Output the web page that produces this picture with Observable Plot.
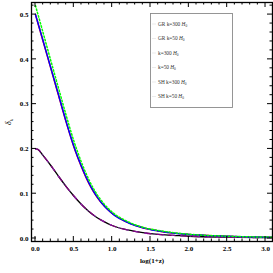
<!DOCTYPE html>
<html><head><meta charset="utf-8">
<script src="https://cdn.jsdelivr.net/npm/d3@7"></script>
<script src="https://cdn.jsdelivr.net/npm/@observablehq/plot@0.6"></script>
<style>body{margin:0;background:#fff} svg{display:block}</style>
</head><body><div id="chart"></div>
<script>
// log(1+z) sample points
const xBig = [0, 0.1, 0.2, 0.3, 0.4, 0.5, 0.6, 0.7, 0.8, 0.9, 1.0, 1.2, 1.4, 1.6, 1.8, 2.0, 2.5, 3.0, 3.08];
const grK300 = [0.500, 0.440, 0.380, 0.320, 0.260, 0.205, 0.160, 0.122, 0.093, 0.072, 0.056, 0.036, 0.024, 0.017, 0.012, 0.009, 0.005, 0.003, 0.003];
const k300   = [0.500, 0.441, 0.381, 0.321, 0.261, 0.206, 0.161, 0.123, 0.094, 0.072, 0.056, 0.036, 0.024, 0.017, 0.012, 0.009, 0.005, 0.003, 0.003];
const shK300 = [0.520, 0.459, 0.397, 0.336, 0.275, 0.218, 0.170, 0.130, 0.099, 0.076, 0.059, 0.038, 0.025, 0.018, 0.013, 0.0095, 0.0052, 0.0032, 0.003];

const xSmall = [0, 0.03, 0.1, 0.2, 0.3, 0.4, 0.5, 0.6, 0.7, 0.8, 0.9, 1.0, 1.2, 1.4, 1.6, 1.8, 2.0, 2.5, 3.0, 3.08];
const grK50 = [0.200, 0.199, 0.185, 0.163, 0.139, 0.116, 0.095, 0.076, 0.060, 0.047, 0.037, 0.029, 0.019, 0.013, 0.009, 0.007, 0.005, 0.003, 0.002, 0.002];
const k50   = [0.200, 0.199, 0.185, 0.163, 0.139, 0.116, 0.095, 0.076, 0.060, 0.047, 0.037, 0.029, 0.019, 0.013, 0.009, 0.007, 0.005, 0.003, 0.002, 0.002];
const shK50 = [0.200, 0.199, 0.185, 0.163, 0.139, 0.116, 0.095, 0.076, 0.060, 0.047, 0.037, 0.029, 0.019, 0.013, 0.009, 0.007, 0.005, 0.003, 0.002, 0.002];

const xMajor = [0, 0.5, 1.0, 1.5, 2.0, 2.5, 3.0];
const xMinor = [0.1, 0.2, 0.3, 0.4, 0.6, 0.7, 0.8, 0.9, 1.1, 1.2, 1.3, 1.4, 1.6, 1.7, 1.8, 1.9, 2.1, 2.2, 2.3, 2.4, 2.6, 2.7, 2.8, 2.9];
const yMajor = [0, 0.1, 0.2, 0.3, 0.4, 0.5];
const yMinor = [0.02, 0.04, 0.06, 0.08, 0.12, 0.14, 0.16, 0.18, 0.22, 0.24, 0.26, 0.28, 0.32, 0.34, 0.36, 0.38, 0.42, 0.44, 0.46, 0.48, 0.52];

const legendLabels = ["GR k=300 ", "GR k=50 ", "k=300 ", "k=50 ", "SH k=300 ", "SH k=50 "];
const xLabel = "log(1+z)";
const yLabel = "δ";
const ySub = "k";

const rows = (xs, ys) => xs.map((x, i) => ({x, y: ys[i]}));
const fmt = d3.format(".1f");

const chart = Plot.plot({
  width: 273, height: 273,
  marginLeft: 31, marginRight: 1, marginTop: 2, marginBottom: 32,
  x: {domain: [-0.052, 3.091]},
  y: {domain: [-0.0067, 0.527]},
  style: {fontFamily: "Liberation Serif", fontSize: "7px", fontWeight: "bold", color: "#000", background: "#fff"},
  marks: [
    Plot.lineY(rows(xSmall, grK50), {x: "x", y: "y", stroke: "#000", strokeWidth: 1.3, curve: "monotone-x"}),
    Plot.lineY(rows(xSmall, k50), {x: "x", y: "y", stroke: "#800080", strokeWidth: 1.3, strokeDasharray: "6,6", curve: "monotone-x"}),
    Plot.lineY(rows(xSmall, shK50), {x: "x", y: "y", stroke: "#9932cc", strokeWidth: 1.3, strokeDasharray: "1,8", strokeOpacity: 0.6, curve: "monotone-x"}),
    Plot.lineY(rows(xBig, grK300), {x: "x", y: "y", stroke: "#ff0000", strokeWidth: 1.5, curve: "monotone-x"}),
    Plot.lineY(rows(xBig, k300), {x: "x", y: "y", stroke: "#0000ff", strokeWidth: 1.5, strokeDasharray: "5,1", curve: "monotone-x"}),
    Plot.lineY(rows(xBig, shK300), {x: "x", y: "y", stroke: "#00ff00", strokeWidth: 1.5, strokeDasharray: "1.5,2", curve: "monotone-x"}),
    Plot.axisX({ticks: xMajor, tickFormat: fmt, tickSize: 0, tickPadding: 5, label: null}),
    Plot.axisY({ticks: yMajor, tickFormat: fmt, tickSize: 0, tickPadding: 3, label: null}),
    Plot.frame({stroke: "#000", strokeWidth: 1.3}),
    Plot.text([xLabel], {frameAnchor: "bottom", dy: 21, fontSize: 7, fontWeight: "bold"})
  ]
});
document.getElementById("chart").appendChild(chart);

const svg = d3.select(chart);
const sx = v => chart.scale("x").apply(v);
const sy = v => chart.scale("y").apply(v);
const L = 31, R = 272, T = 2, B = 241;

// inward ticks on all four sides, placed through the plot's scales
const tg = svg.append("g").attr("stroke", "#000").attr("stroke-width", 1);
const tickX = (vals, len) => vals.forEach(v => {
  const px = sx(v);
  tg.append("line").attr("x1", px).attr("x2", px).attr("y1", B).attr("y2", B - len);
  tg.append("line").attr("x1", px).attr("x2", px).attr("y1", T).attr("y2", T + len);
});
const tickY = (vals, len) => vals.forEach(v => {
  const py = sy(v);
  tg.append("line").attr("y1", py).attr("y2", py).attr("x1", L).attr("x2", L + len);
  tg.append("line").attr("y1", py).attr("y2", py).attr("x1", R).attr("x2", R - len);
});
tickX(xMajor, 5); tickX(xMinor, 2.5);
tickY(yMajor, 5); tickY(yMinor, 2.5);

// y label with subscript
const yl = svg.append("text")
  .attr("transform", "translate(11,122) rotate(-90)")
  .attr("text-anchor", "middle")
  .attr("font-family", "Liberation Serif").attr("font-size", 8).attr("font-style", "italic").attr("font-weight", "normal");
yl.append("tspan").text(yLabel);
yl.append("tspan").attr("font-size", 5).attr("dy", 2).text(ySub);

// legend box
const lg = svg.append("g").attr("font-family", "Liberation Serif").attr("font-size", 5.3)
  .attr("font-weight", "normal").attr("text-anchor", "start");
lg.append("rect").attr("x", 150.5).attr("y", 13.5).attr("width", 82).attr("height", 94)
  .attr("fill", "#fff").attr("stroke", "#8a8a8a").attr("stroke-width", 0.9);
legendLabels.forEach((t, i) => {
  const ty = 25.5 + i * 14.5;
  lg.append("line").attr("x1", 152).attr("x2", 156).attr("y1", ty - 1.5).attr("y2", ty - 1.5)
    .attr("stroke", "#ddd").attr("stroke-width", 0.6);
  const te = lg.append("text").attr("x", 158).attr("y", ty).attr("fill", "#333").attr("text-anchor", "start");
  te.append("tspan").text(t);
  te.append("tspan").attr("font-style", "italic").text("H");
  te.append("tspan").attr("font-size", 3.5).attr("dy", 1.2).text("0");
});
</script>
</body></html>
